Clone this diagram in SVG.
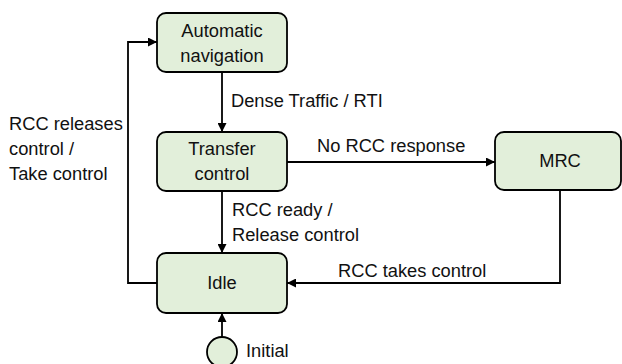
<svg xmlns="http://www.w3.org/2000/svg" width="622" height="364" viewBox="0 0 622 364">
<style>
.node{fill:#e2efda;stroke:#000;stroke-width:1.8}
.t{font-family:"Liberation Sans",Arial,sans-serif;font-size:18.3px;fill:#111}
.c{text-anchor:middle}
.e{fill:none;stroke:#000;stroke-width:1.8}
</style>
<defs>
<marker id="ah" viewBox="0 0 10 10" refX="10" refY="5" markerWidth="5" markerHeight="5" orient="auto" markerUnits="strokeWidth">
<path d="M0,0 L10,5 L0,10 z" fill="#000"/>
</marker>
</defs>
<rect width="622" height="364" fill="#fff"/>
<g id="edges">
<path class="e" d="M222,72 V132" marker-end="url(#ah)"/>
<path class="e" d="M287,162 H495" marker-end="url(#ah)"/>
<path class="e" d="M222,191 V253" marker-end="url(#ah)"/>
<path class="e" d="M560,190 V283 H287" marker-end="url(#ah)"/>
<path class="e" d="M157,283 H128 V42 H157" marker-end="url(#ah)"/>
<path class="e" d="M222,337 V313" marker-end="url(#ah)"/>
<text class="t" x="231" y="107">Dense Traffic / RTI</text>
<text class="t" x="317" y="152">No RCC response</text>
<text class="t" x="232" y="216">RCC ready /</text>
<text class="t" x="232" y="241">Release control</text>
<text class="t" x="338" y="277">RCC takes control</text>
<text class="t" x="9" y="130">RCC releases</text>
<text class="t" x="9" y="155">control /</text>
<text class="t" x="9" y="180">Take control</text>
</g>
<g id="auto">
<rect class="node" x="157" y="13" width="130" height="59" rx="9"/>
<text class="t c" x="222" y="37">Automatic</text>
<text class="t c" x="222" y="62">navigation</text>
</g>
<g id="transfer">
<rect class="node" x="157" y="132" width="130" height="59" rx="9"/>
<text class="t c" x="222" y="155">Transfer</text>
<text class="t c" x="222" y="180">control</text>
</g>
<g id="mrc">
<rect class="node" x="495" y="132" width="126" height="58" rx="9"/>
<text class="t c" x="560" y="167">MRC</text>
</g>
<g id="idle">
<rect class="node" x="157" y="253" width="130" height="60" rx="9"/>
<text class="t c" x="222" y="289">Idle</text>
</g>
<g id="initial">
<circle class="node" cx="222" cy="352" r="15"/>
<text class="t" x="246" y="357">Initial</text>
</g>
</svg>
